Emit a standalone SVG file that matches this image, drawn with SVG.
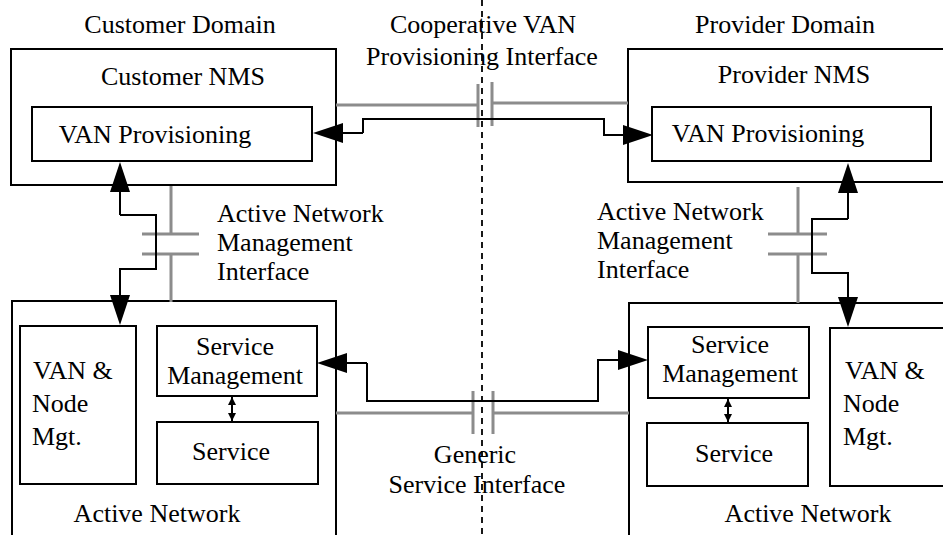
<svg xmlns="http://www.w3.org/2000/svg" width="943" height="535" viewBox="0 0 943 535">
<style>
text{font-family:"Liberation Serif","Times New Roman",serif;font-size:26px;fill:#000}
.c{text-anchor:middle}
.box{fill:none;stroke:#000;stroke-width:2}
.g{fill:none;stroke:#8c8c8c;stroke-width:3}
.k{fill:none;stroke:#000;stroke-width:2}
.d{fill:none;stroke:#000;stroke-width:1.8;stroke-dasharray:6 5}
</style>
<defs>
<marker id="ah" markerUnits="userSpaceOnUse" markerWidth="30" markerHeight="22" viewBox="0 0 30 22" refX="0" refY="11" orient="auto">
<path d="M0,1 L30,11 L0,21 Z" fill="#000"/>
</marker>
<marker id="sa" markerUnits="userSpaceOnUse" markerWidth="8" markerHeight="10" viewBox="0 0 8 10" refX="8" refY="5" orient="auto-start-reverse">
<path d="M0,1 L8,5 L0,9 Z" fill="#000"/>
</marker>
</defs>
<rect width="943" height="535" fill="#fff"/>

<g id="labels">
<text class="c" x="180" y="33">Customer Domain</text>
<text class="c" x="785" y="33">Provider Domain</text>
<text class="c" x="483" y="33">Cooperative VAN</text>
<text class="c" x="482" y="65">Provisioning Interface</text>
<text x="217" y="222">Active Network</text>
<text x="217" y="251">Management</text>
<text x="217" y="280">Interface</text>
<text x="597" y="220">Active Network</text>
<text x="597" y="249">Management</text>
<text x="597" y="278">Interface</text>
<text class="c" x="475" y="463">Generic</text>
<text class="c" x="477" y="493">Service Interface</text>
</g>

<g id="customer-nms">
<rect class="box" x="11" y="49" width="325" height="136"/>
<text class="c" x="183" y="85">Customer NMS</text>
</g>
<g id="customer-van-prov">
<rect class="box" x="32" y="107" width="280" height="54"/>
<text class="c" x="155" y="143">VAN Provisioning</text>
</g>

<g id="provider-nms">
<rect class="box" x="628" y="49" width="330" height="133"/>
<text class="c" x="794" y="83">Provider NMS</text>
</g>
<g id="provider-van-prov">
<rect class="box" x="652" y="107" width="279" height="54"/>
<text class="c" x="768" y="142">VAN Provisioning</text>
</g>

<g id="customer-active-network">
<rect class="box" x="12" y="301" width="324" height="260"/>
<text class="c" x="157" y="522">Active Network</text>
</g>
<g id="customer-van-node">
<rect class="box" x="20" y="326" width="116" height="158"/>
<text x="33" y="379">VAN &amp;</text>
<text x="32" y="412">Node</text>
<text x="32" y="445">Mgt.</text>
</g>
<g id="customer-service-mgmt">
<rect class="box" x="157" y="326" width="160" height="70"/>
<text class="c" x="235" y="355">Service</text>
<text class="c" x="235" y="384">Management</text>
</g>
<g id="customer-service">
<rect class="box" x="157" y="422" width="161" height="62"/>
<text class="c" x="231" y="460">Service</text>
</g>

<g id="provider-active-network">
<rect class="box" x="629" y="303" width="330" height="260"/>
<text class="c" x="808" y="522">Active Network</text>
</g>
<g id="provider-service-mgmt">
<rect class="box" x="648" y="327" width="161" height="71"/>
<text class="c" x="730" y="353">Service</text>
<text class="c" x="730" y="382">Management</text>
</g>
<g id="provider-service">
<rect class="box" x="647" y="423" width="161" height="63"/>
<text class="c" x="734" y="462">Service</text>
</g>
<g id="provider-van-node">
<rect class="box" x="830" y="328" width="130" height="158"/>
<text x="845" y="379">VAN &amp;</text>
<text x="843" y="412">Node</text>
<text x="843" y="445">Mgt.</text>
</g>

<g id="connectors">
<line class="d" x1="482" y1="0" x2="482" y2="535"/>
<!-- gray interfaces -->
<path class="g" d="M336,105 H478 M478,84 V127 M492,82 V126 M492,103 H628"/>
<path class="g" d="M171,186 V234 M142,234 H199 M142,254 H199 M171,254 V302"/>
<path class="g" d="M798,187 V234 M768,234 H827 M768,254 H827 M798,254 V303"/>
<path class="g" d="M336,413 H473 M473,391 V434 M493,391 V434 M493,413 H629"/>
<!-- black connectors -->
<path class="k" d="M363,133 V119 H604 V135 H623" marker-end="url(#ah)"/>
<path class="k" d="M363,133 H343" marker-end="url(#ah)"/>
<path class="k" d="M120,215 V192" marker-end="url(#ah)"/>
<path class="k" d="M120,215 H156 V269 H120 V295" marker-end="url(#ah)"/>
<path class="k" d="M848,219 V193" marker-end="url(#ah)"/>
<path class="k" d="M848,219 H812 V273 H848 V297" marker-end="url(#ah)"/>
<path class="k" d="M367,363 H347" marker-end="url(#ah)"/>
<path class="k" d="M367,363 V401 H598 V360 H618" marker-end="url(#ah)"/>
<line class="k" x1="232" y1="397" x2="232" y2="421" stroke-width="1.5" marker-start="url(#sa)" marker-end="url(#sa)"/>
<line class="k" x1="728" y1="399" x2="728" y2="422" stroke-width="1.5" marker-start="url(#sa)" marker-end="url(#sa)"/>
</g>
</svg>
